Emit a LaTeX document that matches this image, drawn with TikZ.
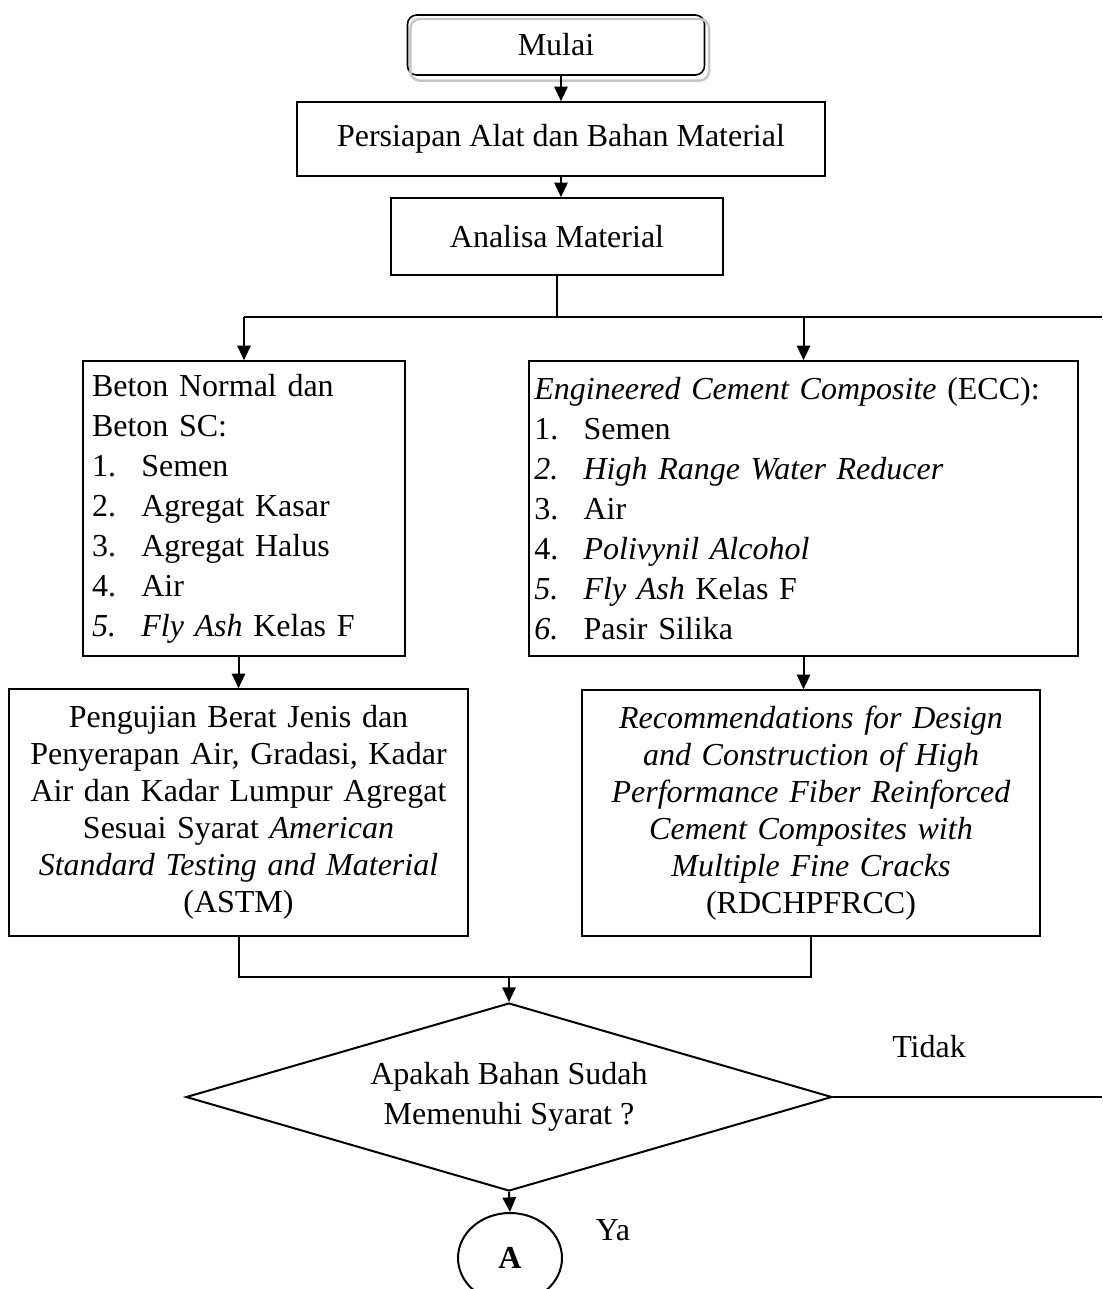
\documentclass[tikz,border=0pt]{standalone}
\usepackage{fontspec}
\setmainfont{Liberation Serif}
\usetikzlibrary{shapes.geometric,arrows.meta}
\newcommand{\butir}[2]% number, item text
{\makebox[18.5pt][l]{#1}#2}

\tikzset{
  kotak/.style={draw, line width=0.6pt, inner ysep=0pt, font=\fontsize{12}{15}\selectfont},
  daftar/.style={kotak, align=left, inner xsep=3.4pt},
  tengah/.style={kotak, align=center, inner xsep=2pt, font=\fontsize{12}{13.9}\selectfont},
  panah/.style={-{Triangle[length=5.5pt,width=5pt]}, line width=0.75pt},
  garis/.style={line width=0.75pt},
  teks/.style={font=\fontsize{12}{15}\selectfont},
}

\begin{document}
\begin{tikzpicture}[x=0.375pt, y=-0.375pt]
\useasboundingbox (0,0) rectangle (1102,1289);

\node[kotak, rounded corners=3.5pt, minimum width=111.4pt, minimum height=22.5pt] (mulai) at (556,45) {Mulai};
\draw[gray!45, line width=0.9pt, rounded corners=3.5pt] ([shift={(1.4pt,-1.8pt)}]mulai.north west) rectangle ([shift={(1.4pt,-1.8pt)}]mulai.south east);

\node[kotak, minimum width=198pt, minimum height=27.75pt] (persiapan) at (561,139) {Persiapan Alat dan Bahan Material};
\node[kotak, minimum width=124.5pt, minimum height=28.9pt] (analisa) at (557,236.5) {Analisa Material};

\node[daftar, text width=114pt, minimum height=110.6pt] (beton) at (244,508.5)
  {Beton Normal dan\\ Beton SC:\\ \butir{1.}{Semen}\\ \butir{2.}{Agregat Kasar}\\
   \butir{3.}{Agregat Halus}\\ \butir{4.}{Air}\\ \butir{\textit{5.}}{\textit{Fly Ash} Kelas F}};
\node[daftar, inner xsep=2pt, text width=201.9pt, minimum height=110.6pt] (ecc) at (803.5,508.5)
  {\textit{Engineered Cement Composite} (ECC):\\ \butir{1.}{Semen}\\
   \butir{\textit{2.}}{\textit{High Range Water Reducer}}\\ \butir{3.}{Air}\\
   \butir{4.}{\textit{Polivynil Alcohol}}\\ \butir{\textit{5.}}{\textit{Fly Ash} Kelas F}\\
   \butir{\textit{6.}}{Pasir Silika}};

\node[tengah, text width=168pt, minimum height=92.6pt] (uji) at (238.5,812.5)
  {Pengujian Berat Jenis dan\\ Penyerapan Air, Gradasi, Kadar\\ Air dan Kadar Lumpur Agregat\\
   Sesuai Syarat \textit{American}\\ \textit{Standard Testing and Material}\\ (ASTM)};
\node[tengah, text width=167.75pt, minimum height=92.25pt] (rdc) at (811,813)
  {\textit{Recommendations for Design}\\ \textit{and Construction of High}\\
   \textit{Performance Fiber Reinforced}\\ \textit{Cement Composites with}\\
   \textit{Multiple Fine Cracks}\\ (RDCHPFRCC)};

\node[draw, garis, diamond, aspect=3.44, inner sep=0pt, minimum width=242.25pt, minimum height=70.5pt,
  align=center, teks] (keputusan) at (509,1097) {Apakah Bahan Sudah\\ Memenuhi Syarat ?};
\node[draw, garis, ellipse, inner sep=0pt, minimum width=39pt, minimum height=33.75pt,
  font=\fontsize{12}{15}\selectfont\bfseries] (conA) at (510,1258) {A};

\node[teks] (tidak) at (929,1047) {Tidak};
\node[teks] (ya) at (613,1230) {Ya};

\coordinate (cabang) at (557,317);
\coordinate (kanan) at (1102,317);
\coordinate (gabung) at (509,977);

\draw[panah] (persiapan.north |- mulai.south) -- (persiapan.north);
\draw[panah] (persiapan.south) -- (persiapan.south |- analisa.north);
\draw[garis] (analisa.south) -- (cabang);
\draw[garis] (beton.north |- cabang) -- (kanan);
\draw[panah] (beton.north |- cabang) -- (beton.north);
\draw[panah] (ecc.north |- cabang) -- (ecc.north);
\draw[panah] (uji.north |- beton.south) -- (uji.north);
\draw[panah] (ecc.south) -- (ecc.south |- rdc.north);
\draw[garis] (uji.south) |- (gabung) -| (rdc.south);
\draw[panah] (gabung) -- (keputusan.north);
\draw[panah] (keputusan.south) -- (conA.north);
\draw[garis] (keputusan.east) -- (keputusan.east -| kanan);
\end{tikzpicture}
\end{document}
